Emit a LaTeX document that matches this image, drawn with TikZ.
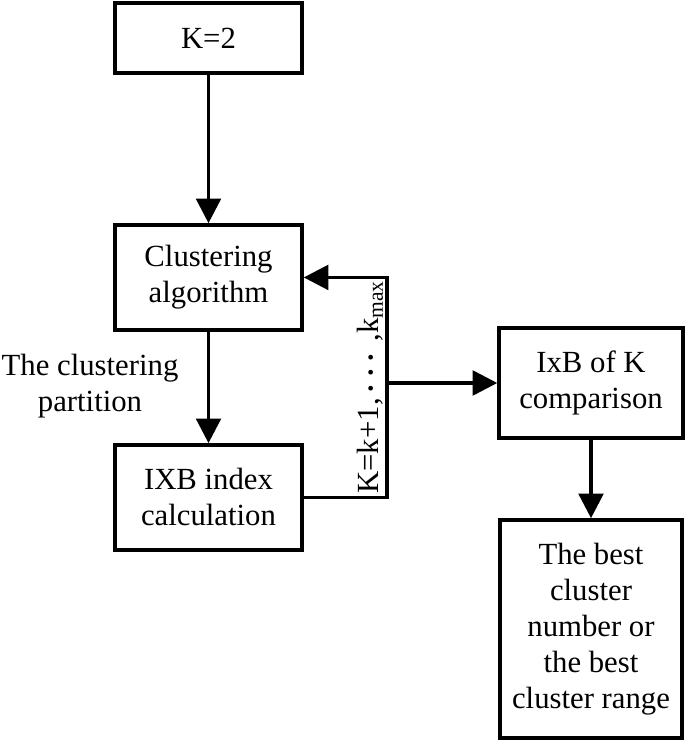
\documentclass[tikz,border=0pt]{standalone}
\usepackage{fontspec}
\usepackage{amsmath}
\setmainfont{Liberation Serif}
\usetikzlibrary{shapes,arrows.meta}
\tikzstyle{block} = [rectangle, draw, line width=2pt, align=center,
    inner sep=0pt, font=\fontsize{17.5}{20.5}\selectfont]
\tikzstyle{note} = [align=center, inner sep=0pt, font=\fontsize{17.5}{20.5}\selectfont]
\tikzstyle{line} = [draw, line width=2pt, -{Triangle[length=14pt,width=14pt]}]

\begin{document}
\begin{tikzpicture}[x=0.02cm, y=-0.02cm, node distance=3cm]
  \useasboundingbox (0,0) rectangle (685,742);
  \node [block, minimum width=3.74cm, minimum height=1.4cm] (k_init) at (208.5,38) {K=2};
  \node [block, minimum width=3.74cm, minimum height=2.1cm, below of=k_init,
    node distance=4.79cm] (clust) {Clustering\\algorithm};
  \node [block, minimum width=3.74cm, minimum height=2.1cm, below of=clust,
    node distance=4.4cm] (ixb_calc) {IXB index\\calculation};
  \node [block, minimum width=3.68cm, minimum height=2.2cm] (compare) at (591,383)
    {IxB of K\\comparison};
  \node [block, minimum width=3.64cm, minimum height=4.36cm, below of=compare,
    node distance=4.92cm] (best) {The best\\cluster\\number or\\the best\\cluster range};
  \node [note] (partition) at (90,386) {The clustering\\partition};
  \coordinate (junc) at (387,383);
  \node [note, rotate=90] (k_range) at (370,387)
    {K=k+1,\,$\boldsymbol{\cdots}$\,,k\textsubscript{max}};
  \path [line] (k_init) -- (clust);
  \path [line] (clust) -- (ixb_calc);
  \path [line] (ixb_calc.east) -| (junc) |- (clust.east);
  \path [line] (junc) -- (compare);
  \path [line] (compare) -- (best);
\end{tikzpicture}
\end{document}
